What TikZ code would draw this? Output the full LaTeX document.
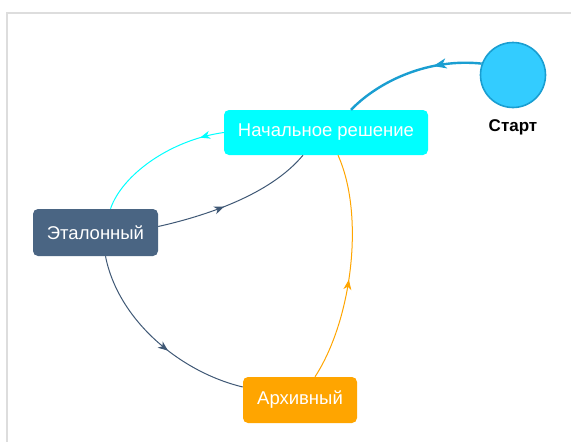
\documentclass[tikz,border=0pt]{standalone}
\usepackage{fontspec}
\setmainfont{Liberation Sans}
\usetikzlibrary{arrows.meta,decorations.markings}

\definecolor{startfill}{HTML}{33CCFF}
\definecolor{startline}{HTML}{1A9ED1}
\definecolor{slate}{HTML}{4A6583}
\definecolor{slateline}{HTML}{3F5875}
\definecolor{archfill}{HTML}{FFA500}
\definecolor{initfill}{HTML}{00FFFF}
\definecolor{frame}{HTML}{DDDDDD}

\begin{document}
\begin{tikzpicture}[
  x=1pt, y=-1pt,
  state/.style={rounded corners=5pt, minimum height=45pt, inner xsep=6pt, align=center, text=white, font=\fontsize{18.5}{21}\selectfont},
  startnode/.style={circle, draw=startline, fill=startfill, line width=1.6pt, minimum size=65pt, inner sep=0pt},
  link/.style={line width=1pt},
  midarrow/.style={postaction={decorate}, decoration={markings, mark=at position #1 with {\arrow{Stealth[length=10pt,width=8pt,inset=3pt]}}}},
  bigarrow/.style={postaction={decorate}, decoration={markings, mark=at position #1 with {\arrow{Stealth[length=13pt,width=10pt,inset=3.5pt]}}}}
]
\useasboundingbox (0,0) rectangle (571,442);
\draw[frame, line width=1.5pt] (7,442) -- (7,13) -- (571,13);

\node[startnode] (start) at (513,75) {};
\node[font=\bfseries\fontsize{17}{20}\selectfont] (startlbl) at (513,127) {Старт};
\node[state, fill=initfill, minimum width=204pt] (init) at (326,132.5) {Начальное решение};
\node[state, fill=slate, minimum width=125pt, minimum height=47pt] (ref) at (95.5,232.5) {Эталонный};
\node[state, fill=archfill, minimum width=114pt, minimum height=46pt] (arch) at (300,400) {Архивный};

\draw[startline, line width=2.4pt, bigarrow=0.34] (start.160) .. controls (430,58) and (380,80) .. ([xshift=25pt]init.north);
\draw[link, initfill, midarrow=0.17] (init.west) .. controls (170,140) and (122,175) .. ([xshift=15pt]ref.north);
\draw[link, slateline, midarrow=0.42] ([yshift=6pt]ref.east) .. controls (205,216) and (270,195) .. ([xshift=-23pt]init.south);
\draw[link, slateline, midarrow=0.58] ([xshift=10pt]ref.south) .. controls (118,320) and (180,372) .. ([yshift=13pt]arch.west);
\draw[link, archfill, midarrow=0.45] ([xshift=15pt]arch.north) .. controls (352,320) and (365,215) .. ([xshift=12pt]init.south);
\end{tikzpicture}
\end{document}
